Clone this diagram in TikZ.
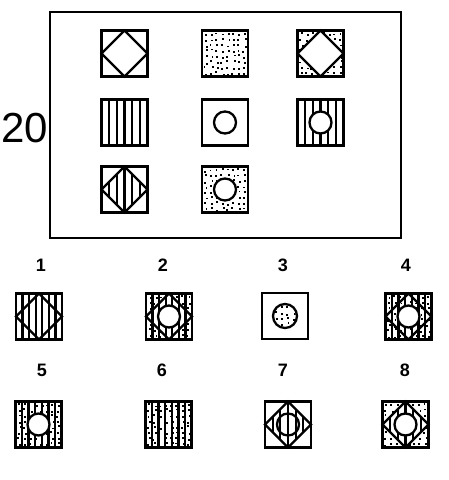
\documentclass[tikz,border=0pt]{standalone}
\usepackage{fontspec}
\setmainfont{Liberation Sans}
\usetikzlibrary{positioning}
\tikzstyle{tile} = [line width=2.3pt]
\tikzstyle{frame} = [line width=2.8pt]
\tikzstyle{num} = [font=\bfseries\fontsize{18}{18}\selectfont]
\tikzstyle{big} = [font=\fontsize{42}{42}\selectfont]
% pieces of one tile, drawn round (0,0)
\newcommand{\tilesq}{\draw[tile] (-23,-23) rectangle (23,23);}
\newcommand{\tiledmd}{\draw[tile] (0,-23) -- (23,0) -- (0,23) -- (-23,0) -- cycle;}
\newcommand{\tilering}{\draw[tile, fill=white] (0,0) circle (11);}
\newcommand{\tilestripes}[1]{\foreach \k in {1,...,#1} \draw[tile] ({-23+46*\k/(#1+1)},-23) -- ++(0,46);}
\newcommand{\tiledots}{\foreach \i in {0,...,7} \foreach \j in {0,...,7} \fill ({-20.3+5.6*\i+rand*1.5},{-20.3+5.6*\j+rand*1.5}) rectangle ++(1.9,1.9);}
\newcommand{\tilecorners}{\clip (-23,-23) -- (0,-23) -- (-23,0) -- cycle (23,-23) -- (0,-23) -- (23,0) -- cycle (23,23) -- (0,23) -- (23,0) -- cycle (-23,23) -- (0,23) -- (-23,0) -- cycle;}
\newcommand{\tileinner}{\clip (0,-23) -- (23,0) -- (0,23) -- (-23,0) -- cycle;}
\newcommand{\tileat}[3]{\begin{scope}[shift={(#1,#2)}] #3 \tilesq \end{scope}}

\begin{document}
\begin{tikzpicture}[x=1pt,y=-1pt]
\useasboundingbox (0,0) rectangle (448,480);
\pgfmathsetseed{20}

% Problem frame
\draw[frame] (50,12) rectangle (401,238);
\node (qnum) [big] at (25,128) {20};

% Row 1
\tileat{124.5}{53.5}{\tiledmd}
\tileat{225}{53.5}{\tiledots}
\tileat{320.5}{53.5}{\begin{scope}\tilecorners\tiledots\end{scope} \tiledmd}

% Row 2
\tileat{124.5}{122.5}{\tilestripes{5}}
\tileat{225}{122.5}{\tilering}
\tileat{320.5}{122.5}{\tilestripes{5} \tilering}

% Row 3
\tileat{124.5}{189.5}{\begin{scope}\tileinner\tilestripes{5}\end{scope} \tiledmd}
\tileat{225}{189.5}{\tiledots \tilering}

% Answers
\node (a1) [num] at (41,265) {1};
\node (a2) [num] at (163,265) {2};
\node (a3) [num] at (283,265) {3};
\node (a4) [num] at (406,265) {4};
\node (a5) [num] at (42,370) {5};
\node (a6) [num] at (162,370) {6};
\node (a7) [num] at (283,370) {7};
\node (a8) [num] at (405,370) {8};

\tileat{39}{316.5}{\tilestripes{6} \tiledmd}
\tileat{169}{316.5}{\begin{scope}\tilecorners\tiledots\end{scope} \tilestripes{6} \tilering \tiledmd}
\tileat{285}{316}{\draw[tile, fill=white] (0,0) circle (12); \begin{scope}\clip (0,0) circle (11);\tiledots\end{scope}}
\tileat{408.5}{316.5}{\tiledots \tilestripes{6} \tilering \tiledmd}

\tileat{38.5}{424.5}{\tiledots \tilestripes{6} \tilering}
\tileat{168.5}{424.5}{\tiledots \tilestripes{6}}
\tileat{288}{424.5}{\begin{scope}\tileinner\tilestripes{5}\end{scope} \draw[tile] (0,0) circle (11); \tiledmd}
\tileat{405.5}{424.5}{\begin{scope}\tilecorners\tiledots\end{scope} \begin{scope}\tileinner\tilestripes{5}\end{scope} \tilering \tiledmd}

\end{tikzpicture}
\end{document}
